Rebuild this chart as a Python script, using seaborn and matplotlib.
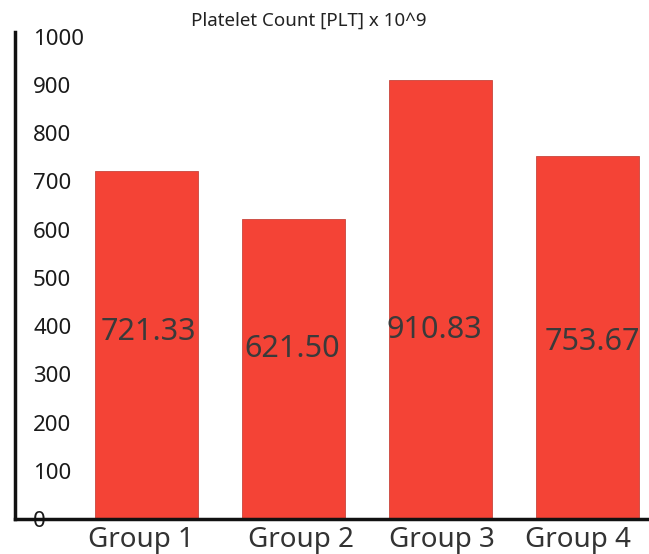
import matplotlib
matplotlib.use("Agg")
import matplotlib.pyplot as plt
import matplotlib.transforms as mtransforms
import seaborn as sns
import pandas as pd

# Mean platelet count per group
groups = ["Group 1", "Group 2", "Group 3", "Group 4"]
plt_means = [721.33, 621.50, 910.83, 753.67]
y_ticks = [0, 100, 200, 300, 400, 500, 600, 700, 800, 900, 1000]

df = pd.DataFrame({"group": groups, "plt": plt_means})

sns.set_style("white")
plt.rcParams["font.family"] = ["Noto Sans", "DejaVu Sans"]

fig = plt.figure(figsize=(6.49, 5.54), dpi=100)
ax = fig.add_axes([0.0231, 0.0632, 0.977, 0.879])

sns.barplot(data=df, x="group", y="plt", color="#f44336", width=0.70,
            saturation=1, edgecolor="#c8463c", linewidth=0.6, ax=ax)

ax.set_xlim(-0.895, 3.418)
ax.set_ylim(0, 1010)
ax.set_yticks(y_ticks)
ax.set_yticklabels([str(t) for t in y_ticks], ha="left", va="center_baseline")
ax.tick_params(axis="y", length=0, pad=-13, labelsize=16, labelcolor="#1a1a1a")
ax.tick_params(axis="x", length=0, pad=5, labelsize=20, labelcolor="#333333")
ax.set_xlabel("")
ax.set_ylabel("")

# nudge the group names sideways a little (offsets in points)
name_shift = [-4, 5, 1, -7]
for lbl, dx in zip(ax.get_xticklabels(), name_shift):
    lbl.set_transform(lbl.get_transform() +
                      mtransforms.ScaledTranslation(dx / 72, 0, fig.dpi_scale_trans))

for side in ("top", "right"):
    ax.spines[side].set_visible(False)
for side in ("left", "bottom"):
    ax.spines[side].set_color("#111111")
    ax.spines[side].set_linewidth(2.5)

# Value labels inside each bar
label_heights = [387, 352, 391, 368]
label_shift = [0.01, -0.01, -0.04, 0.03]
for i, (v, h, dx) in enumerate(zip(plt_means, label_heights, label_shift)):
    ax.text(i + dx, h, f"{v:.2f}", ha="center", va="center",
            fontsize=22, color="#3a3a3a")

fig.text(0.476, 0.963, "Platelet Count [PLT] x 10^9", ha="center", va="center",
         fontsize=13.5, color="#222222")

fig.savefig("out.png", dpi=100)
